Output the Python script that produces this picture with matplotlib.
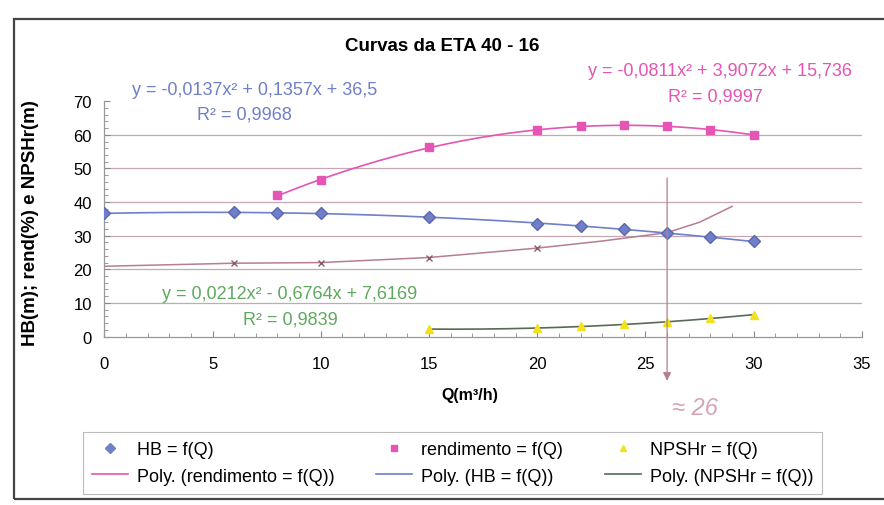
import numpy as np
import matplotlib
matplotlib.use("Agg")
import matplotlib.pyplot as plt
from matplotlib.lines import Line2D
from matplotlib.patches import Rectangle

plt.rcParams['font.family'] = ['Liberation Sans', 'DejaVu Sans']

# values
q_hb = [0, 6, 8, 10, 15, 20, 22, 24, 26, 28, 30]
hb = [36.6, 36.9, 36.8, 36.7, 35.5, 33.6, 32.9, 31.9, 30.8, 29.5, 28.3]

q_rend = [8, 10, 15, 20, 22, 24, 26, 28, 30]
rend = [42.0, 46.5, 56.3, 61.3, 62.6, 62.9, 62.5, 61.5, 60.0]

q_npsh = [15, 20, 22, 24, 26, 28, 30]
npsh = [2.2, 2.5, 3.0, 3.6, 4.3, 5.4, 6.5]

# hand drawn system curve (pen on the printout)
q_sys = [0, 6, 10, 15, 20, 23, 26, 27.5, 29]
h_sys = [20.9, 21.8, 22.0, 23.5, 26.3, 28.4, 30.9, 34.0, 38.7]
q_sys_marks = [6, 10, 15, 20]
h_sys_marks = [21.8, 22.0, 23.5, 26.3]

eq_hb = ["y = -0,0137x² + 0,1357x + 36,5", "R² = 0,9968"]
eq_rend = ["y = -0,0811x² + 3,9072x + 15,736", "R² = 0,9997"]
eq_npsh = ["y = 0,0212x² - 0,6764x + 7,6169", "R² = 0,9839"]

c_hb = '#6f7fc8'
c_rend = '#e455b4'
c_npsh = '#f2e21c'
c_npsh_fit = '#556b55'
c_grid = '#c4a8b4'
c_pen = '#b67e90'

fig = plt.figure(figsize=(8.84, 5.06), dpi=100)
ax = fig.add_axes([0.118, 0.333, 0.857, 0.465])

# gridlines
for g in range(10, 70, 10):
    ax.axhline(g, color=c_grid, lw=0.9, zorder=0)

# polynomial trendlines
xs = np.linspace(min(q_hb), max(q_hb), 200)
ax.plot(xs, np.polyval(np.polyfit(q_hb, hb, 2), xs), color=c_hb, lw=1.2, zorder=2)
xs = np.linspace(min(q_rend), max(q_rend), 200)
ax.plot(xs, np.polyval(np.polyfit(q_rend, rend, 2), xs), color=c_rend, lw=1.2, zorder=2)
xs = np.linspace(min(q_npsh), max(q_npsh), 200)
ax.plot(xs, np.polyval(np.polyfit(q_npsh, npsh, 2), xs), color=c_npsh_fit, lw=1.2, zorder=2)

# markers
ax.plot(q_hb, hb, 'D', color=c_hb, ms=6, mec='#5a68b0', zorder=3)
ax.plot(q_rend, rend, 's', color=c_rend, ms=6, zorder=3)
ax.plot(q_npsh, npsh, '^', color=c_npsh, ms=6, zorder=3)

# pen annotations
ax.plot(q_sys, h_sys, color=c_pen, lw=1.1, zorder=1)
ax.plot(q_sys_marks, h_sys_marks, 'x', color='#8a5a6a', ms=5, mew=1, zorder=1)
ax.annotate('', xy=(26, -14), xytext=(26, 48), annotation_clip=False,
            arrowprops=dict(arrowstyle='-|>', color=c_pen, lw=0.9, mutation_scale=12))

ax.set_xlim(0, 35)
ax.set_ylim(0, 70)
ax.set_xticks(range(0, 36, 5))
ax.set_yticks(range(0, 71, 10))
ax.set_xticks(range(0, 36, 1), minor=True)
ax.set_yticks(range(0, 71, 2), minor=True)
ax.tick_params(axis='both', which='major', labelsize=12, length=4, direction='in', color='#888888')
ax.tick_params(axis='both', which='minor', length=3, direction='in', color='#888888')
ax.tick_params(axis='x', pad=14)
ax.tick_params(axis='y', pad=9)
for s in ['top', 'right']:
    ax.spines[s].set_visible(False)
for s in ['left', 'bottom']:
    ax.spines[s].set_color('#999999')
    ax.spines[s].set_linewidth(0.9)
ax.patch.set_alpha(0)

fig.text(0.50, 0.909, 'Curvas da ETA 40 - 16', ha='center', va='center',
         fontsize=13.5, fontweight='bold')
fig.text(0.034, 0.56, 'HB(m); rend(%) e NPSHr(m)', rotation=90, ha='center', va='center',
         fontsize=13.5, fontweight='bold')
fig.text(0.532, 0.219, 'Q(m³/h)', ha='center', va='center', fontsize=11.5, fontweight='bold')

fig.text(0.288, 0.822, eq_hb[0], ha='center', va='center', fontsize=13, color=c_hb)
fig.text(0.277, 0.773, eq_hb[1], ha='center', va='center', fontsize=13, color=c_hb)
fig.text(0.814, 0.858, eq_rend[0], ha='center', va='center', fontsize=13, color=c_rend)
fig.text(0.809, 0.808, eq_rend[1], ha='center', va='center', fontsize=13, color=c_rend)
fig.text(0.328, 0.417, eq_npsh[0], ha='center', va='center', fontsize=13, color='#5fa85f')
fig.text(0.328, 0.368, eq_npsh[1], ha='center', va='center', fontsize=13, color='#5fa85f')

fig.text(0.786, 0.192, '≈ 26', ha='center', va='center', fontsize=17,
         color='#d9a3b3', style='italic')

handles = [
    Line2D([], [], ls='none', marker='D', color=c_hb, ms=5),
    Line2D([], [], color=c_rend, lw=1.2),
    Line2D([], [], ls='none', marker='s', color=c_rend, ms=5),
    Line2D([], [], color=c_hb, lw=1.2),
    Line2D([], [], ls='none', marker='^', color=c_npsh, ms=5),
    Line2D([], [], color=c_npsh_fit, lw=1.2),
]
labels = ['HB = f(Q)', 'Poly. (rendimento = f(Q))', 'rendimento = f(Q)',
          'Poly. (HB = f(Q))', 'NPSHr = f(Q)', 'Poly. (NPSHr = f(Q))']
leg = fig.legend(handles, labels, ncol=3, loc='center', bbox_to_anchor=(0.512, 0.083),
                 fontsize=13, frameon=True, fancybox=False, edgecolor='#aaaaaa',
                 handlelength=2.0, handletextpad=0.5, columnspacing=2.3,
                 labelspacing=0.5, borderpad=0.5)
leg.get_frame().set_linewidth(0.8)

fig.patches.append(Rectangle((0.016, 0.012), 1.0, 0.948, transform=fig.transFigure,
                             fill=False, edgecolor='#444444', lw=1.6))

fig.savefig('out.png', dpi=100)
